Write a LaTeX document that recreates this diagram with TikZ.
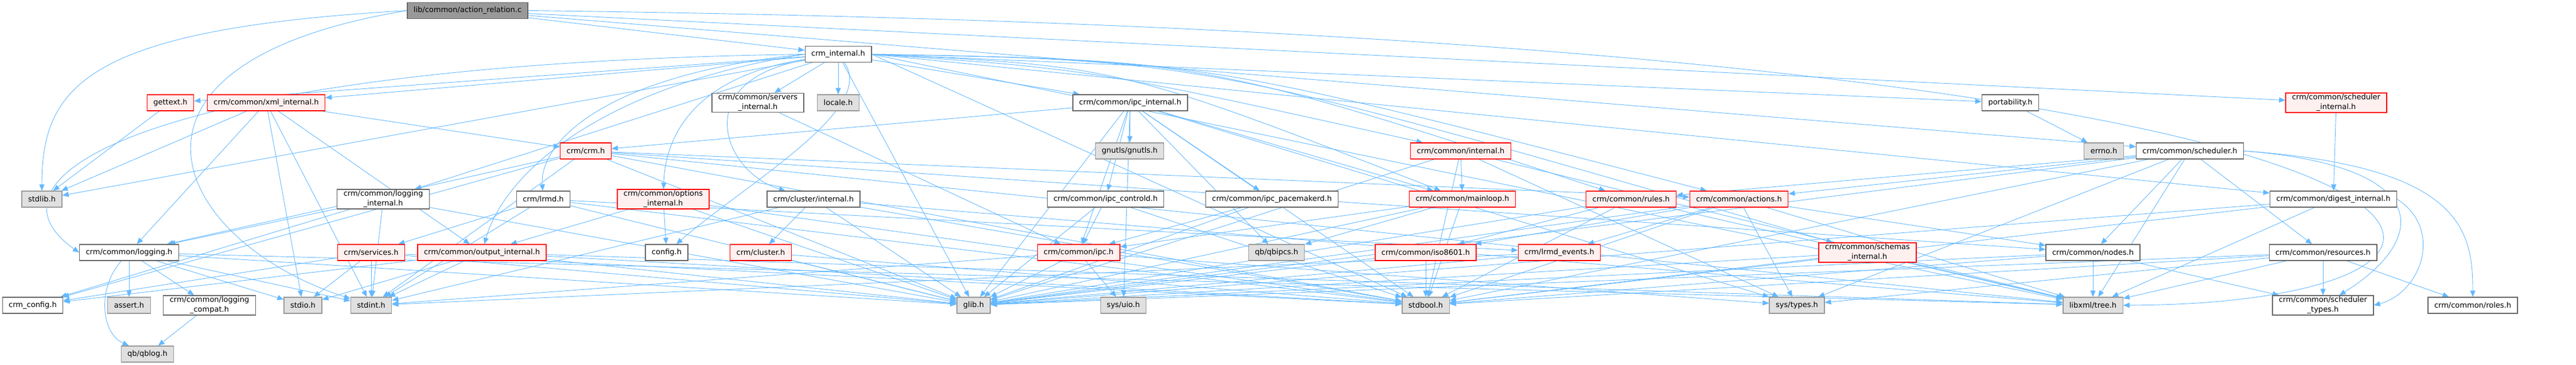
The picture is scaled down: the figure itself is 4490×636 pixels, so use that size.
\documentclass[tikz,border=0pt]{standalone}
\usepackage{fontspec}
\setmainfont{DejaVu Sans}
\usetikzlibrary{arrows.meta,backgrounds}
\definecolor{bleulien}{HTML}{63B8FF}
\definecolor{rougefond}{HTML}{FFF0F0}
\definecolor{grisfond}{HTML}{E0E0E0}
\definecolor{grisbord}{HTML}{999999}
\definecolor{noirbord}{HTML}{666666}
\begin{document}
\begin{tikzpicture}[x=1pt,y=-1pt,
	fichier/.style={draw=noirbord,fill=white,line width=1.3pt,inner xsep=11pt,inner ysep=2pt,
		minimum height=28pt,align=center,font=\fontsize{13}{17}\selectfont},
	principal/.style={fichier,fill=grisbord},
	systeme/.style={fichier,draw=grisbord,fill=grisfond},
	absent/.style={fichier,draw=red,fill=rougefond},
	lien/.style={draw=bleulien,line width=0.9pt,-{Triangle[length=11pt,width=9pt]}}]
	\useasboundingbox (0,0) rectangle (4490,636);

	% Définition des noeuds
	\node[principal] (top) at (815,18.5) {lib/common/action\_relation.c};
	\node[fichier] (crmint) at (1461,94.5) {crm\_internal.h};

	\node[absent] (gettext) at (297,179) {gettext.h};
	\node[absent] (xmlint) at (464,179) {crm/common/xml\_internal.h};
	\node[fichier] (servint) at (1321,179) {crm/common/servers\\\_internal.h};
	\node[systeme] (locale) at (1461,179) {locale.h};
	\node[fichier] (ipcint) at (1970,179) {crm/common/ipc\_internal.h};
	\node[fichier] (port) at (3504,179) {portability.h};
	\node[absent] (schedint) at (4072,179) {crm/common/scheduler\\\_internal.h};

	\node[absent] (crmh) at (1021,263) {crm/crm.h};
	\node[systeme] (gnutls) at (1969,263) {gnutls/gnutls.h};
	\node[absent] (internal) at (2546,263) {crm/common/internal.h};
	\node[systeme] (errno) at (3667,263) {errno.h};
	\node[fichier] (sched) at (3817,263) {crm/common/scheduler.h};

	\node[systeme] (stdlib) at (73,347) {stdlib.h};
	\node[fichier] (logint) at (668,347) {crm/common/logging\\\_internal.h};
	\node[fichier] (lrmd) at (947,347) {crm/lrmd.h};
	\node[absent] (optint) at (1156,347) {crm/common/options\\\_internal.h};
	\node[fichier] (clint) at (1418,347) {crm/cluster/internal.h};
	\node[fichier] (ipcctl) at (1927,347) {crm/common/ipc\_controld.h};
	\node[fichier] (ipcpcmk) at (2217,347) {crm/common/ipc\_pacemakerd.h};
	\node[absent] (mainloop) at (2549,347) {crm/common/mainloop.h};
	\node[absent] (rules) at (2843,347) {crm/common/rules.h};
	\node[absent] (actions) at (3031,347) {crm/common/actions.h};
	\node[fichier] (digest) at (4067,347) {crm/common/digest\_internal.h};

	\node[fichier] (logging) at (225,440) {crm/common/logging.h};
	\node[absent] (services) at (647,440) {crm/services.h};
	\node[absent] (outint) at (840,440) {crm/common/output\_internal.h};
	\node[fichier] (config) at (1162,440) {config.h};
	\node[absent] (cluster) at (1326,440) {crm/cluster.h};
	\node[absent] (ipc) at (1880,440) {crm/common/ipc.h};
	\node[systeme] (qbipcs) at (2225,440) {qb/qbipcs.h};
	\node[absent] (iso) at (2485,440) {crm/common/iso8601.h};
	\node[absent] (lrmdev) at (2718,440) {crm/lrmd\_events.h};
	\node[absent] (schemint) at (3255,440) {crm/common/schemas\\\_internal.h};
	\node[fichier] (nodes) at (3648,440) {crm/common/nodes.h};
	\node[fichier] (resources) at (4049,440) {crm/common/resources.h};

	\node[fichier] (crmconfig) at (57,532) {crm\_config.h};
	\node[systeme] (assert) at (225,532) {assert.h};
	\node[fichier] (logcompat) at (365,532) {crm/common/logging\\\_compat.h};
	\node[systeme] (stdio) at (528,532) {stdio.h};
	\node[systeme] (stdint) at (647,532) {stdint.h};
	\node[systeme] (glib) at (1697,532) {glib.h};
	\node[systeme] (uio) at (1958,532) {sys/uio.h};
	\node[systeme] (stdbool) at (2485,532) {stdbool.h};
	\node[systeme] (systypes) at (3132,532) {sys/types.h};
	\node[systeme] (tree) at (3648,532) {libxml/tree.h};
	\node[fichier] (schedtypes) at (4049,532) {crm/common/scheduler\\\_types.h};
	\node[fichier] (roles) at (4310,532) {crm/common/roles.h};

	\node[systeme] (qblog) at (257,617) {qb/qblog.h};

	% Définition des arêtes
	\begin{scope}[on background layer]
	\draw[lien] (top) -- (crmint);
	\draw[lien] (top.west) .. controls (150,50) and (73,150) .. (stdlib);
	\draw[lien] (top.west) .. controls (150,110) and (300,420) .. (stdint);
	\draw[lien] (top) -- (schedint);
	\draw[lien] (top) -- (sched);
	\draw[lien] (top.east) .. controls (4530,60) and (4530,530) .. (tree);

	\draw[lien] (crmint) -- (gettext);
	\draw[lien] (crmint) -- (xmlint);
	\draw[lien] (crmint.west) .. controls (300,110) and (-60,300) .. (logging.west);
	\draw[lien] (crmint) -- (stdlib);
	\draw[lien] (crmint) -- (logint);
	\draw[lien] (crmint.west) .. controls (1050,130) and (940,250) .. (lrmd);
	\draw[lien] (crmint.west) .. controls (1050,150) and (880,300) .. (outint);
	\draw[lien] (crmint) .. controls (1230,130) and (1160,220) .. (optint);
	\draw[lien] (crmint) .. controls (1530,190) and (1300,320) .. (config);
	\draw[lien] (crmint) -- (servint);
	\draw[lien] (crmint) -- (locale);
	\draw[lien] (crmint) .. controls (1200,140) and (1260,300) .. (clint);
	\draw[lien] (crmint) -- (ipcint);
	\draw[lien] (crmint) -- (glib);
	\draw[lien] (crmint.east) -- (stdbool);
	\draw[lien] (crmint.east) -- (tree);
	\draw[lien] (crmint.east) .. controls (1900,120) .. (internal);
	\draw[lien] (crmint.east) .. controls (1950,115) .. (mainloop);
	\draw[lien] (crmint.east) -- (port);
	\draw[lien] (crmint.east) .. controls (2100,105) .. (schemint);
	\draw[lien] (crmint.east) -- (digest);
	\draw[lien] (crmint.east) .. controls (2100,105) .. (rules);
	\draw[lien] (crmint.east) .. controls (2100,105) .. (actions);

	\draw[lien] (gettext) -- (stdlib);
	\draw[lien] (xmlint) -- (stdlib);
	\draw[lien] (xmlint) -- (logging);
	\draw[lien] (xmlint) -- (crmh);
	\draw[lien] (xmlint) -- (stdint);
	\draw[lien] (xmlint) -- (outint);
	\draw[lien] (xmlint) -- (stdio);
	\draw[lien] (servint) -- (ipc);

	\draw[lien] (crmh) -- (crmconfig);
	\draw[lien] (crmh) -- (logging);
	\draw[lien] (crmh) -- (stdint);
	\draw[lien] (crmh) -- (glib);
	\draw[lien] (crmh) -- (stdbool);
	\draw[lien] (crmh) -- (tree);
	\draw[lien] (crmh) -- (actions);
	\draw[lien] (crmh) -- (nodes);

	\draw[lien] (logint) -- (logging);
	\draw[lien] (logint) -- (stdint);
	\draw[lien] (logint) -- (glib);
	\draw[lien] (logint) -- (crmconfig);
	\draw[lien] (lrmd) -- (services);
	\draw[lien] (lrmd) -- (lrmdev);
	\draw[lien] (lrmd) -- (stdint);
	\draw[lien] (lrmd) -- (glib);
	\draw[lien] (lrmd) -- (stdbool);
	\draw[lien] (optint) -- (outint);
	\draw[lien] (optint) -- (config);
	\draw[lien] (optint) -- (glib);
	\draw[lien] (optint) -- (stdbool);
	\draw[lien] (clint) -- (cluster);
	\draw[lien] (clint) -- (stdint);
	\draw[lien] (clint) -- (glib);
	\draw[lien] (clint) -- (stdbool);
	\draw[lien] (clint) -- (tree);

	\draw[lien] (ipcint) -- (crmh);
	\draw[lien] (ipcint) -- (gnutls);
	\draw[lien] (ipcint) -- (ipcctl);
	\draw[lien] (ipcint) -- (ipcpcmk);
	\draw[lien] (ipcint) -- (ipc);
	\draw[lien] (ipcint) -- (glib);
	\draw[lien] (ipcint) -- (uio);
	\draw[lien] (ipcint) -- (mainloop);
	\draw[lien] (ipcint) -- (qbipcs);
	\draw[lien] (ipcint) -- (stdbool);
	\draw[lien] (ipcint) -- (systypes);
	\draw[lien] (ipcctl) -- (ipc);
	\draw[lien] (ipcctl) -- (glib);
	\draw[lien] (ipcctl) -- (stdbool);
	\draw[lien] (ipcpcmk) -- (ipc);
	\draw[lien] (ipcpcmk) -- (glib);

	\draw[lien] (internal) -- (mainloop);
	\draw[lien] (internal) -- (glib);
	\draw[lien] (internal) -- (stdbool);
	\draw[lien] (internal) -- (systypes);
	\draw[lien] (internal) -- (tree);
	\draw[lien] (mainloop) -- (ipc);
	\draw[lien] (mainloop) -- (qbipcs);
	\draw[lien] (mainloop) -- (glib);
	\draw[lien] (mainloop) -- (stdbool);
	\draw[lien] (rules) -- (iso);
	\draw[lien] (rules) -- (glib);
	\draw[lien] (rules) -- (tree);
	\draw[lien] (rules) -- (stdbool);
	\draw[lien] (actions) -- (iso);
	\draw[lien] (actions) -- (lrmdev);
	\draw[lien] (actions) -- (nodes);
	\draw[lien] (actions) -- (glib);
	\draw[lien] (actions) -- (stdbool);
	\draw[lien] (actions) -- (tree);
	\draw[lien] (actions) -- (systypes);

	\draw[lien] (port) -- (errno);
	\draw[lien] (schedint) -- (digest);
	\draw[lien] (sched) -- (rules);
	\draw[lien] (sched) -- (actions);
	\draw[lien] (sched) -- (nodes);
	\draw[lien] (sched) -- (resources);
	\draw[lien] (sched.east) .. controls (4250,290) and (4230,420) .. (schedtypes);
	\draw[lien] (sched.east) .. controls (4290,290) and (4310,400) .. (roles);
	\draw[lien] (sched) -- (tree);
	\draw[lien] (sched) -- (glib);
	\draw[lien] (sched) -- (stdbool);
	\draw[lien] (sched) -- (systypes);
	\draw[lien] (digest) -- (glib);
	\draw[lien] (digest) -- (tree);
	\draw[lien] (digest.east) .. controls (4260,400) and (4220,510) .. (schedtypes.east);
	\draw[lien] (digest) -- (stdbool);

	\draw[lien] (logging) -- (assert);
	\draw[lien] (logging) -- (logcompat);
	\draw[lien] (logging) .. controls (170,500) and (175,580) .. (qblog);
	\draw[lien] (logging) -- (stdio);
	\draw[lien] (logging) -- (stdint);
	\draw[lien] (logging) -- (glib);
	\draw[lien] (logging) -- (tree);
	\draw[lien] (logcompat) -- (qblog);
	\draw[lien] (services) -- (crmconfig);
	\draw[lien] (services) -- (stdio);
	\draw[lien] (services) -- (stdint);
	\draw[lien] (services) -- (glib);
	\draw[lien] (services) -- (stdbool);
	\draw[lien] (outint) -- (stdio);
	\draw[lien] (outint) -- (stdint);
	\draw[lien] (outint) -- (glib);
	\draw[lien] (outint) -- (stdbool);
	\draw[lien] (outint) -- (tree);
	\draw[lien] (outint) -- (crmconfig);
	\draw[lien] (cluster) -- (glib);
	\draw[lien] (cluster) -- (stdbool);
	\draw[lien] (ipc) -- (uio);
	\draw[lien] (ipc) -- (glib);
	\draw[lien] (ipc) -- (stdint);
	\draw[lien] (ipc) -- (systypes);
	\draw[lien] (iso) -- (stdbool);
	\draw[lien] (iso) -- (glib);
	\draw[lien] (lrmdev) -- (glib);
	\draw[lien] (lrmdev) -- (stdint);
	\draw[lien] (schemint) -- (glib);
	\draw[lien] (schemint) -- (tree);
	\draw[lien] (schemint) -- (stdbool);
	\draw[lien] (nodes) -- (tree);
	\draw[lien] (nodes) -- (glib);
	\draw[lien] (nodes) -- (stdbool);
	\draw[lien] (nodes) -- (schedtypes);
	\draw[lien] (resources) -- (schedtypes);
	\draw[lien] (resources) -- (roles);
	\draw[lien] (resources) -- (glib);
	\draw[lien] (resources) -- (stdbool);
	\draw[lien] (resources) -- (tree);
	\draw[lien] (resources) -- (systypes);
	\end{scope}
\end{tikzpicture}
\end{document}
